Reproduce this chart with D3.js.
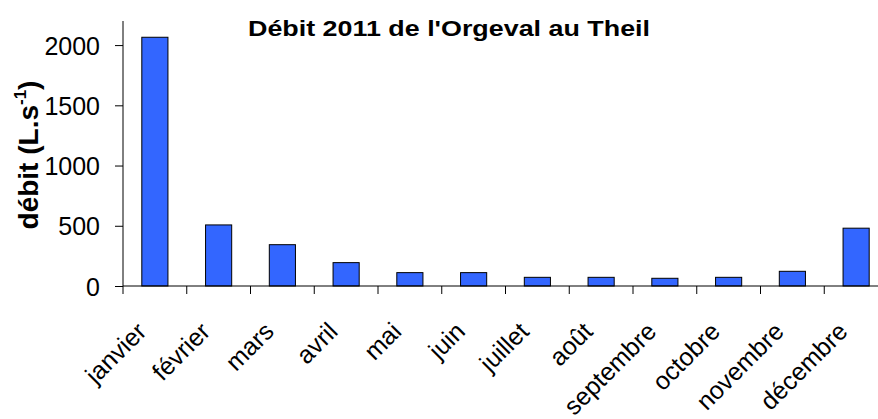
<!DOCTYPE html>
<html><head><meta charset="utf-8">
<script src="https://cdn.jsdelivr.net/npm/d3@7"></script>
<style>
html,body{margin:0;padding:0;background:#fff;}
svg{display:block;font-family:"Liberation Sans",Arial,sans-serif;}
</style></head>
<body>
<svg id="chart" width="878" height="419"></svg>
<script>
const months = ["janvier","février","mars","avril","mai","juin","juillet","août","septembre","octobre","novembre","décembre"];
const debit = [2065, 507, 343, 194, 111, 111, 72, 72, 64, 72, 122, 480];
const yTicks = [0, 500, 1000, 1500, 2000];
const title = "Débit 2011 de l'Orgeval au Theil";

const svg = d3.select("#chart");
const x0 = 123, yZero = 286, yTop = 21, step = 63.75;
const x = d3.scaleBand().domain(months).range([x0, x0 + step * months.length]).padding(0);
const y = d3.scaleLinear().domain([0, 2200]).range([yZero, yTop]);
const barW = x.bandwidth() * 0.41;

// bars
svg.append("g").selectAll("rect").data(months).join("rect")
  .attr("x", (d) => x(d) + x.bandwidth() / 2 - barW / 2)
  .attr("y", (d, i) => y(debit[i]))
  .attr("width", barW)
  .attr("height", (d, i) => y(0) - y(debit[i]))
  .attr("fill", "#3366ff")
  .attr("stroke", "#000")
  .attr("stroke-width", 1);

// y axis
const yAxis = svg.append("g").attr("transform", `translate(${x0},0)`)
  .call(d3.axisLeft(y).tickValues(yTicks).tickSize(8).tickPadding(15).tickFormat(d3.format("d")));
yAxis.select(".domain").attr("stroke", "#000").attr("d", `M0,${yTop}V${yZero}`);
yAxis.selectAll(".tick line").attr("stroke", "#000");
yAxis.selectAll(".tick text").attr("font-size", 25).attr("fill", "#000")
  .attr("font-family", "Liberation Sans, Arial, sans-serif").attr("dy", "0.36em");

// x axis
const xAxis = svg.append("g").attr("transform", `translate(0,${yZero})`);
xAxis.append("line").attr("x1", x0).attr("x2", x.range()[1]).attr("stroke", "#000");
xAxis.selectAll("line.tk").data(months.concat(["_end"])).join("line").attr("class", "tk")
  .attr("x1", (d, i) => x0 + i * x.step()).attr("x2", (d, i) => x0 + i * x.step())
  .attr("y1", 0).attr("y2", 8).attr("stroke", "#000");
xAxis.selectAll("text").data(months).join("text")
  .attr("transform", (d) => `translate(${x(d) + x.bandwidth() / 2 - 7},${47}) rotate(-45)`)
  .attr("text-anchor", "end")
  .attr("font-size", 25)
  .attr("fill", "#000")
  .text((d) => d);

// title
svg.append("text").attr("x", 449).attr("y", 36).attr("text-anchor", "middle")
  .attr("font-weight", "bold").attr("font-size", 21.5).attr("fill", "#000")
  .attr("textLength", 402).attr("lengthAdjust", "spacingAndGlyphs")
  .text(title);

// y title
const yt = svg.append("text").attr("transform", "translate(38,155) rotate(-90)")
  .attr("text-anchor", "middle").attr("font-weight", "bold").attr("font-size", 28).attr("fill", "#000");
yt.append("tspan").text("débit (L.s");
yt.append("tspan").attr("font-size", 17).attr("dy", -12).text("-1");
yt.append("tspan").attr("dy", 12).text(")");
</script>
</body></html>
